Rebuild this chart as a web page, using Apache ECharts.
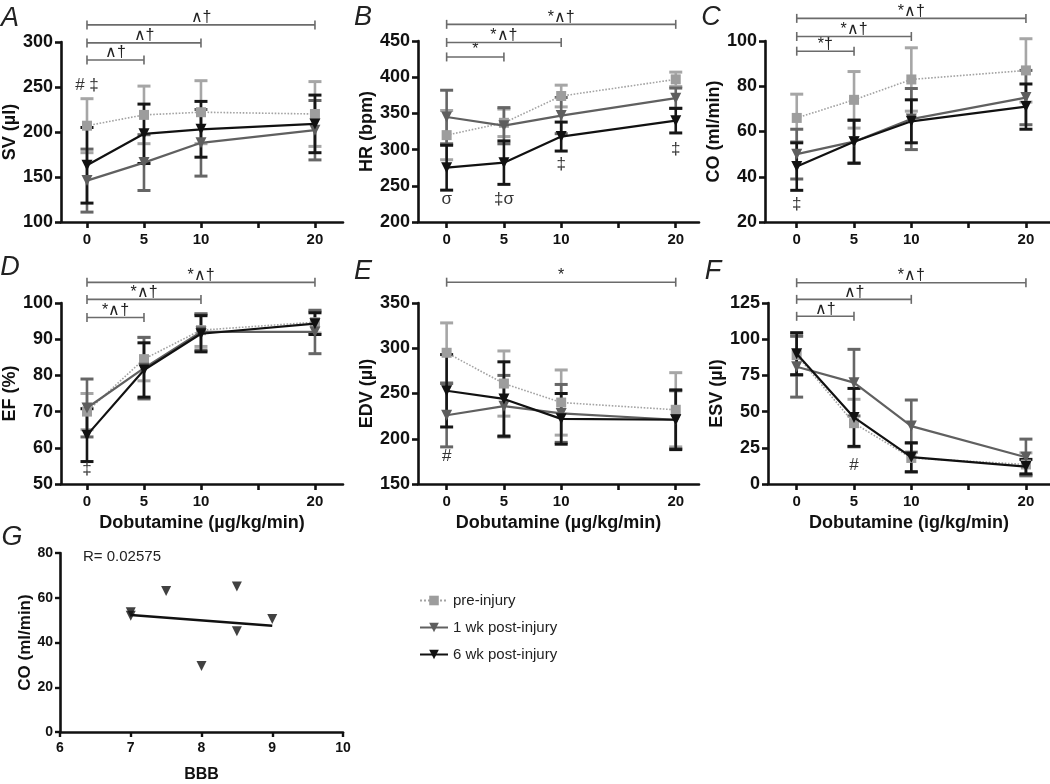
<!DOCTYPE html>
<html><head><meta charset="utf-8">
<script src="https://cdn.jsdelivr.net/npm/echarts@6/dist/echarts.min.js"></script>
<style>html,body{margin:0;padding:0;background:#fff}#c{width:1050px;height:784px}</style>
</head><body><div id="c"></div><script>
// ---------- data ----------
const doses = [0, 5, 10, 20];
const xTicks = [0, 5, 10, 15, 20];
const xTickLabels = [0, 5, 10, 20];
const groups = ['pre-injury', '1 wk post-injury', '6 wk post-injury'];

// A: SV (µl)
const svPre = [207, 219, 222, 220], svPreSD = [30, 32, 35, 36];
const sv1 = [146, 166, 188, 202], sv1SD = [35, 31, 37, 33];
const sv6 = [163, 198, 203, 209], sv6SD = [42, 33, 31, 32];
const svBrackets = [[0, 5, 280, '∧†'], [0, 10, 299, '∧†'], [0, 20, 319, '∧†']];
const svNotes = [[0, 252, '# ‡']];

// B: HR (bpm)
const hrPre = [320, 337, 374, 397], hrPreSD = [34, 19, 15, 10];
const hr1 = [345, 333, 347, 371], hr1SD = [37, 25, 25, 14];
const hr6 = [275, 282, 318, 340], hr6SD = [31, 30, 20, 17];
const hrBrackets = [[0, 5, 428, '*'], [0, 10, 448, '*∧†'], [0, 20, 473, '*∧†']];
const hrNotes = [[0, 232, 'σ'], [5, 232, '‡σ'], [10, 280, '‡'], [20, 301, '‡']];

// C: CO (ml/min)
const coPre = [66, 74, 83, 87], coPreSD = [10.5, 12.5, 14, 14];
const co1 = [50, 55.5, 65.5, 75], co1SD = [11, 9.5, 13.5, 12];
const co6 = [44.5, 55.5, 64.5, 71], co6SD = [10.5, 9.5, 9.5, 10];
const coBrackets = [[0, 5, 95.5, '*†'], [0, 10, 102, '*∧†'], [0, 20, 110, '*∧†']];
const coNotes = [[0, 28, '‡']];

// D: EF (%)
const efPre = [70, 84.5, 92.5, 94.7], efPreSD = [5, 6, 4.5, 3];
const ef1 = [71, 82, 92, 92], ef1SD = [8, 8.5, 5, 6];
const ef6 = [63.5, 81.5, 91.5, 94.3], ef6SD = [7.3, 7.5, 5, 3];
const efBrackets = [[0, 5, 96, '*∧†'], [0, 10, 101, '*∧†'], [0, 20, 105.7, '*∧†']];
const efNotes = [[0, 54, '‡']];

// E: EDV (µl)
const edvPre = [295, 261, 240, 232], edvPreSD = [33, 36, 36, 41];
const edv1 = [226, 236, 228, 221], edv1SD = [35, 34, 32, 32];
const edv6 = [253, 244, 222, 221], edv6SD = [40, 41, 28, 33];
const edvBrackets = [[0, 20, 373, '*']];
const edvNotes = [[0, 181, '#']];

// F: ESV (µl)
const esvPre = [89, 42, 18, 13.5], esvPreSD = [14, 16.5, 10, 8];
const esv1 = [81, 70, 40, 18.5], esv1SD = [21, 23, 18, 12.5];
const esv6 = [90, 46, 18.5, 12], esv6SD = [14.5, 20, 10, 5];
const esvBrackets = [[0, 5, 115.8, '∧†'], [0, 10, 127.5, '∧†'], [0, 20, 139, '*∧†']];
const esvNotes = [[5, 13, '#']];

// G: CO vs BBB
const bbb = [7, 7, 7.5, 8, 8.5, 8.5, 9];
const coG = [53.5, 52, 63, 29.5, 65, 45, 50.5];
const fitX = [7, 9];
const fitY = [52.3, 47.5];
const rLabel = 'R= 0.02575';

// ---------- style ----------
const FF = "'Liberation Sans', Arial, Helvetica, sans-serif";
const INK = '#111';
const sty = [
  {symbol: 'rect', size: 10, rot: 0, color: '#9d9d9d', line: '#a3a3a3', lw: 1.6, type: 'dotted', err: '#a6a6a6', z: 4},
  {symbol: 'triangle', size: 11, rot: 180, color: '#5e5e5e', line: '#606060', lw: 2.2, type: 'solid', err: '#666666', z: 5},
  {symbol: 'triangle', size: 11, rot: 180, color: '#111111', line: '#111111', lw: 2.2, type: 'solid', err: '#161616', z: 6}
];

const panels = [
  {name: 'SV (µl)', grid: [61, 42, 282, 180], x: [-2.28, 22.46], y: [100, 300, 50], xname: '', gap: 31,
   vals: [[svPre, svPreSD], [sv1, sv1SD], [sv6, sv6SD]], br: svBrackets, notes: svNotes},
  {name: 'HR (bpm)', grid: [418, 41, 281, 181], x: [-2.5, 22.03], y: [200, 450, 50], xname: '', gap: 33,
   vals: [[hrPre, hrPreSD], [hr1, hr1SD], [hr6, hr6SD]], br: hrBrackets, notes: hrNotes},
  {name: 'CO (ml/min)', grid: [765, 41, 285, 181], x: [-2.77, 22.1], y: [20, 100, 20], xname: '', gap: 31,
   vals: [[coPre, coPreSD], [co1, co1SD], [co6, co6SD]], br: coBrackets, notes: coNotes},
  {name: 'EF (%)', grid: [61, 303, 282, 181], x: [-2.28, 22.46], y: [50, 100, 10], xname: 'Dobutamine (µg/kg/min)', gap: 31,
   vals: [[efPre, efPreSD], [ef1, ef1SD], [ef6, ef6SD]], br: efBrackets, notes: efNotes},
  {name: 'EDV (µl)', grid: [418, 303, 281, 181], x: [-2.5, 22.03], y: [150, 350, 50], xname: 'Dobutamine (µg/kg/min)', gap: 31,
   vals: [[edvPre, edvPreSD], [edv1, edv1SD], [edv6, edv6SD]], br: edvBrackets, notes: edvNotes},
  {name: 'ESV (µl)', grid: [768, 303, 282, 181], x: [-2.5, 22.1], y: [0, 125, 25], xname: 'Dobutamine (ìg/kg/min)', gap: 33,
   vals: [[esvPre, esvPreSD], [esv1, esv1SD], [esv6, esv6SD]], br: esvBrackets, notes: esvNotes}
];

const grids = [], xAxes = [], yAxes = [], series = [];
const axisLine = {show: true, onZero: false, lineStyle: {color: INK, width: 2.6}};

panels.forEach((p, k) => {
  grids.push({left: p.grid[0], top: p.grid[1], width: p.grid[2], height: p.grid[3]});
  xAxes.push({type: 'value', gridIndex: k, min: p.x[0], max: p.x[1],
    axisLine, splitLine: {show: false},
    axisTick: {show: true, length: 6, lineStyle: {width: 2.6, color: INK}, customValues: xTicks},
    axisLabel: {customValues: xTickLabels, fontFamily: FF, fontWeight: 'bold', fontSize: 15, color: INK, margin: 10},
    name: p.xname, nameLocation: 'middle', nameGap: 30,
    nameTextStyle: {fontFamily: FF, fontWeight: 'bold', fontSize: 18, color: INK}});
  yAxes.push({type: 'value', gridIndex: k, min: p.y[0], max: p.y[1], interval: p.y[2],
    axisLine, splitLine: {show: false},
    axisTick: {show: true, length: 6, lineStyle: {width: 2.6, color: INK}},
    axisLabel: {fontFamily: FF, fontWeight: 'bold', fontSize: 18, color: INK, margin: 8},
    name: p.name, nameLocation: 'middle', nameGap: p.gap,
    nameTextStyle: {fontFamily: FF, fontWeight: 'bold', fontSize: 18, color: INK}});

  // error bars
  p.vals.forEach((v, g) => {
    const s = sty[g];
    series.push({type: 'custom', name: 'err' + k + '_' + g, xAxisIndex: k, yAxisIndex: k, silent: true,
      z: s.z - 2, clip: false, animation: false,
      data: doses.map((d, i) => [d, v[0][i] - v[1][i], v[0][i] + v[1][i]]),
      renderItem: (params, api) => {
        const x = api.value(0);
        const lo = api.coord([x, api.value(1)]);
        const hi = api.coord([x, api.value(2)]);
        const w = 6.5;
        return {type: 'group', children: [
          {type: 'line', shape: {x1: lo[0], y1: lo[1], x2: hi[0], y2: hi[1]}, style: {stroke: s.err, lineWidth: 2.6}},
          {type: 'line', shape: {x1: lo[0] - w, y1: lo[1], x2: lo[0] + w, y2: lo[1]}, style: {stroke: s.err, lineWidth: 3}},
          {type: 'line', shape: {x1: hi[0] - w, y1: hi[1], x2: hi[0] + w, y2: hi[1]}, style: {stroke: s.err, lineWidth: 3}}
        ]};
      }});
  });
  // lines
  p.vals.forEach((v, g) => {
    const s = sty[g];
    series.push({type: 'line', name: groups[g], xAxisIndex: k, yAxisIndex: k, animation: false,
      data: doses.map((d, i) => [d, v[0][i]]),
      symbol: s.symbol, symbolSize: s.size, symbolRotate: s.rot, showSymbol: true,
      itemStyle: {color: s.color}, lineStyle: {color: s.line, width: s.lw, type: s.type}, z: s.z});
  });
  // significance brackets
  series.push({type: 'custom', name: 'br' + k, xAxisIndex: k, yAxisIndex: k, silent: true, clip: false, z: 8, animation: false,
    data: p.br.map(b => [b[0], b[2], b[1]]),
    renderItem: (params, api) => {
      const b = p.br[params.dataIndex];
      const p0 = api.coord([b[0], b[2]]), p1 = api.coord([b[1], b[2]]);
      const h = 4.5, st = {stroke: '#6b6b6b', lineWidth: 1.6};
      return {type: 'group', children: [
        {type: 'line', shape: {x1: p0[0], y1: p0[1], x2: p1[0], y2: p1[1]}, style: st},
        {type: 'line', shape: {x1: p0[0], y1: p0[1] - h, x2: p0[0], y2: p0[1] + h}, style: st},
        {type: 'line', shape: {x1: p1[0], y1: p1[1] - h, x2: p1[0], y2: p1[1] + h}, style: st},
        {type: 'text', x: (p0[0] + p1[0]) / 2, y: p0[1] + 1,
          style: {text: b[3], align: 'center', verticalAlign: 'bottom', fill: '#222', font: '16px ' + FF}}
      ]};
    }});
  // notes
  series.push({type: 'custom', name: 'nt' + k, xAxisIndex: k, yAxisIndex: k, silent: true, clip: false, z: 8, animation: false,
    data: p.notes.map(n => [n[0], n[1]]),
    renderItem: (params, api) => {
      const n = p.notes[params.dataIndex];
      const c = api.coord([n[0], n[1]]);
      return {type: 'text', x: c[0], y: c[1],
        style: {text: n[2], align: 'center', verticalAlign: 'middle', fill: '#333', font: '17px ' + FF}};
    }});
});

// Panel G
const gk = panels.length;
grids.push({left: 60, top: 553, width: 283, height: 189});
xAxes.push({type: 'value', gridIndex: gk, min: 6, max: 10, interval: 1, axisLine, splitLine: {show: false},
  axisTick: {show: true, length: 5, lineStyle: {width: 2.4, color: INK}},
  axisLabel: {fontFamily: FF, fontWeight: 'bold', fontSize: 14, color: INK, margin: 9},
  name: 'BBB', nameLocation: 'middle', nameGap: 35,
  nameTextStyle: {fontFamily: FF, fontWeight: 'bold', fontSize: 16, color: INK}});
yAxes.push({type: 'value', gridIndex: gk, min: 0, max: 80, interval: 20, axisLine, splitLine: {show: false},
  axisTick: {show: true, length: 5, lineStyle: {width: 2.4, color: INK}},
  axisLabel: {fontFamily: FF, fontWeight: 'bold', fontSize: 14, color: INK, margin: 7},
  name: 'CO (ml/min)', nameLocation: 'middle', nameGap: 25,
  nameTextStyle: {fontFamily: FF, fontWeight: 'bold', fontSize: 17, color: INK}});
series.push({type: 'scatter', name: 'G points', xAxisIndex: gk, yAxisIndex: gk, animation: false,
  data: bbb.map((b, i) => [b, coG[i]]), symbol: 'triangle', symbolRotate: 180, symbolSize: 10,
  itemStyle: {color: INK}, z: 6});
series.push({type: 'line', name: 'G fit', xAxisIndex: gk, yAxisIndex: gk, animation: false,
  data: fitX.map((x, i) => [x, fitY[i]]), symbol: 'none', lineStyle: {color: INK, width: 2.6}, z: 5});

const letters = [['A', 10, 18], ['B', 363, 17], ['C', 711, 17], ['D', 10, 267], ['E', 363, 271], ['F', 713, 271], ['G', 12, 537]];
const graphic = letters.map(l => ({type: 'text', x: l[1], y: l[2],
  style: {text: l[0], font: 'italic 27px ' + FF, fill: '#222', align: 'center', verticalAlign: 'middle'}}));
graphic.push({type: 'text', x: 83, y: 557, style: {text: rLabel, font: '15px ' + FF, fill: '#222', align: 'left', verticalAlign: 'middle'}});

const chart = echarts.init(document.getElementById('c'), null, {renderer: 'canvas'});
chart.setOption({
  backgroundColor: '#fff',
  animation: false,
  grid: grids, xAxis: xAxes, yAxis: yAxes, series, graphic,
  legend: {data: groups, orient: 'vertical', left: 414, top: 588, itemWidth: 28, itemHeight: 12, itemGap: 12,
    textStyle: {fontFamily: FF, fontSize: 15, color: '#222'}}
});
</script></body></html>
